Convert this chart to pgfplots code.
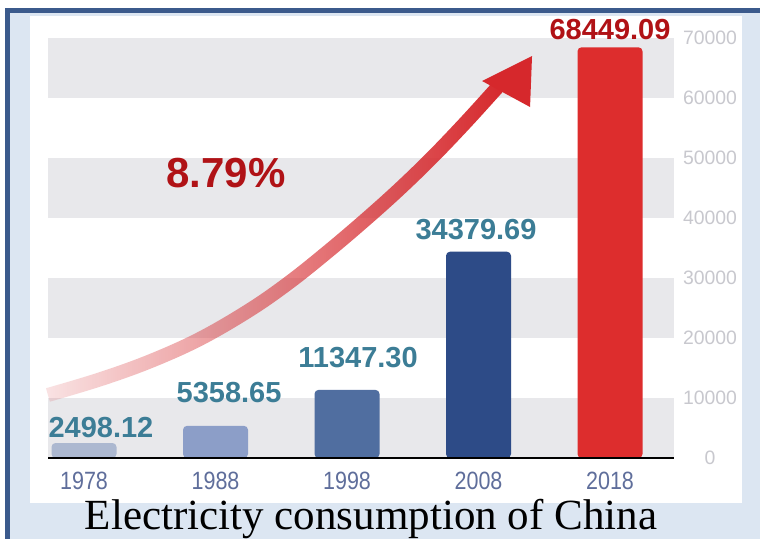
\documentclass[border=0pt]{standalone}
\usepackage{pgfplots}
\pgfplotsset{compat=1.18}
\usepackage{pgfplotstable}
\usetikzlibrary{fadings}
\usepackage{fontspec}
\setmainfont{Liberation Serif}
\newfontfamily\lsans{Liberation Sans}
\newfontfamily\lsansN{Liberation Sans}[FakeStretch=0.86]
\definecolor{frameblue}{RGB}{59,90,140}
\definecolor{lightblue}{RGB}{220,230,242}
\definecolor{bandgray}{RGB}{232,232,235}
\definecolor{arrowred}{RGB}{214,40,44}
\definecolor{valteal}{RGB}{60,125,150}
\definecolor{valred}{RGB}{176,18,22}
\definecolor{yearblue}{RGB}{95,110,155}
\definecolor{tickgray}{RGB}{200,200,206}
\definecolor{bA}{RGB}{172,184,208}
\definecolor{bB}{RGB}{140,158,200}
\definecolor{bC}{RGB}{80,110,160}
\definecolor{bD}{RGB}{45,75,135}
\definecolor{bE}{RGB}{221,45,45}
\tikzfading[name=arrowfade, left color=transparent!88, middle color=transparent!33, right color=transparent!0]

\pgfplotstableread{
x y
-0.274 10500
0.122 13100
0.502 16100
0.882 19850
1.262 24683
1.567 29350
1.871 34683
2.152 39933
2.403 44883
2.654 50217
2.913 56167
3.163 62217
}\arrowpath

\begin{document}
\begin{tikzpicture}
\useasboundingbox (0,0) rectangle (380pt,269.5pt);
\fill[frameblue] (2.5pt,0) rectangle (380pt,265.5pt);
\fill[lightblue] (5pt,0) rectangle (380pt,263pt);
\fill[white] (15pt,18pt) rectangle (371pt,261.5pt);
\begin{axis}[
  at={(24pt,40.5pt)}, anchor=south west,
  scale only axis, width=313pt, height=210pt,
  xmin=-0.2738, xmax=4.4867, ymin=0, ymax=70000,
  clip=false,
  axis line style={draw=none},
  major tick length=0pt,
  scaled y ticks=false,
  xtick={0,1,2,3,4},
  xticklabels={1978,1988,1998,2008,2018},
  ytick={0,10000,20000,30000,40000,50000,60000,70000},
  yticklabels={0,10000,20000,30000,40000,50000,60000,70000},
  yticklabel pos=right,
  xticklabel style={font=\lsansN\fontsize{12.5}{12.5}\selectfont, text=yearblue, anchor=center, yshift=-11.5pt},
  yticklabel style={font=\lsans\fontsize{9.7}{9.7}\selectfont, text=tickgray, anchor=center, xshift=18pt},
]
% gray bands
\addplot[fill=bandgray, draw=none] coordinates {(-0.2738,0) (4.4867,0) (4.4867,10000) (-0.2738,10000)} --cycle;
\addplot[fill=bandgray, draw=none] coordinates {(-0.2738,20000) (4.4867,20000) (4.4867,30000) (-0.2738,30000)} --cycle;
\addplot[fill=bandgray, draw=none] coordinates {(-0.2738,40000) (4.4867,40000) (4.4867,50000) (-0.2738,50000)} --cycle;
\addplot[fill=bandgray, draw=none] coordinates {(-0.2738,60000) (4.4867,60000) (4.4867,70000) (-0.2738,70000)} --cycle;
% bars
\addplot[ybar, bar width=32.5pt, bar shift=0pt, fill=bA, draw=none, rounded corners=2pt] coordinates {(0,2498.12)};
\addplot[ybar, bar width=32.5pt, bar shift=0pt, fill=bB, draw=none, rounded corners=2pt] coordinates {(1,5358.65)};
\addplot[ybar, bar width=32.5pt, bar shift=0pt, fill=bC, draw=none, rounded corners=2pt] coordinates {(2,11347.30)};
\addplot[ybar, bar width=32.5pt, bar shift=0pt, fill=bD, draw=none, rounded corners=2pt] coordinates {(3,34379.69)};
\addplot[ybar, bar width=32.5pt, bar shift=0pt, fill=bE, draw=none, rounded corners=2pt] coordinates {(4,68449.09)};
% baseline
\addplot[black, line width=1.1pt] coordinates {(-0.2738,0) (4.4867,0)};
% arrow with gradient
\addplot[smooth, tension=0.6, line width=7pt, color=arrowred, path fading=arrowfade] table[x=x,y=y] {\arrowpath};
\addplot[fill=arrowred, draw=none] coordinates {(3.027,62833) (3.407,67000) (3.392,58500)} --cycle;
% value labels
\addplot[draw=none, mark=none, nodes near coords, point meta=explicit symbolic,
  every node near coord/.append style={anchor=center, font=\lsans\bfseries\fontsize{14.5}{14.5}\selectfont, text=valteal, inner sep=0pt}]
  coordinates {(0.129,5000) [2498.12] (1.103,10833) [5358.65] (2.084,16667) [11347.30] (2.981,38000) [34379.69]};
\addplot[draw=none, mark=none, nodes near coords, point meta=explicit symbolic,
  every node near coord/.append style={anchor=center, font=\lsans\bfseries\fontsize{14.5}{14.5}\selectfont, text=valred, inner sep=0pt}]
  coordinates {(4.0,71333) [68449.09]};
\addplot[draw=none, mark=none, nodes near coords, point meta=explicit symbolic,
  every node near coord/.append style={anchor=center, font=\lsans\bfseries\fontsize{21}{21}\selectfont, text=valred, inner sep=0pt}]
  coordinates {(1.080,47500) [8.79\%]};
\end{axis}
\node[anchor=base, font=\fontsize{21.5}{21.5}\selectfont, inner sep=0pt] at (185.5pt,4.5pt) {Electricity consumption of China};
\end{tikzpicture}
\end{document}
